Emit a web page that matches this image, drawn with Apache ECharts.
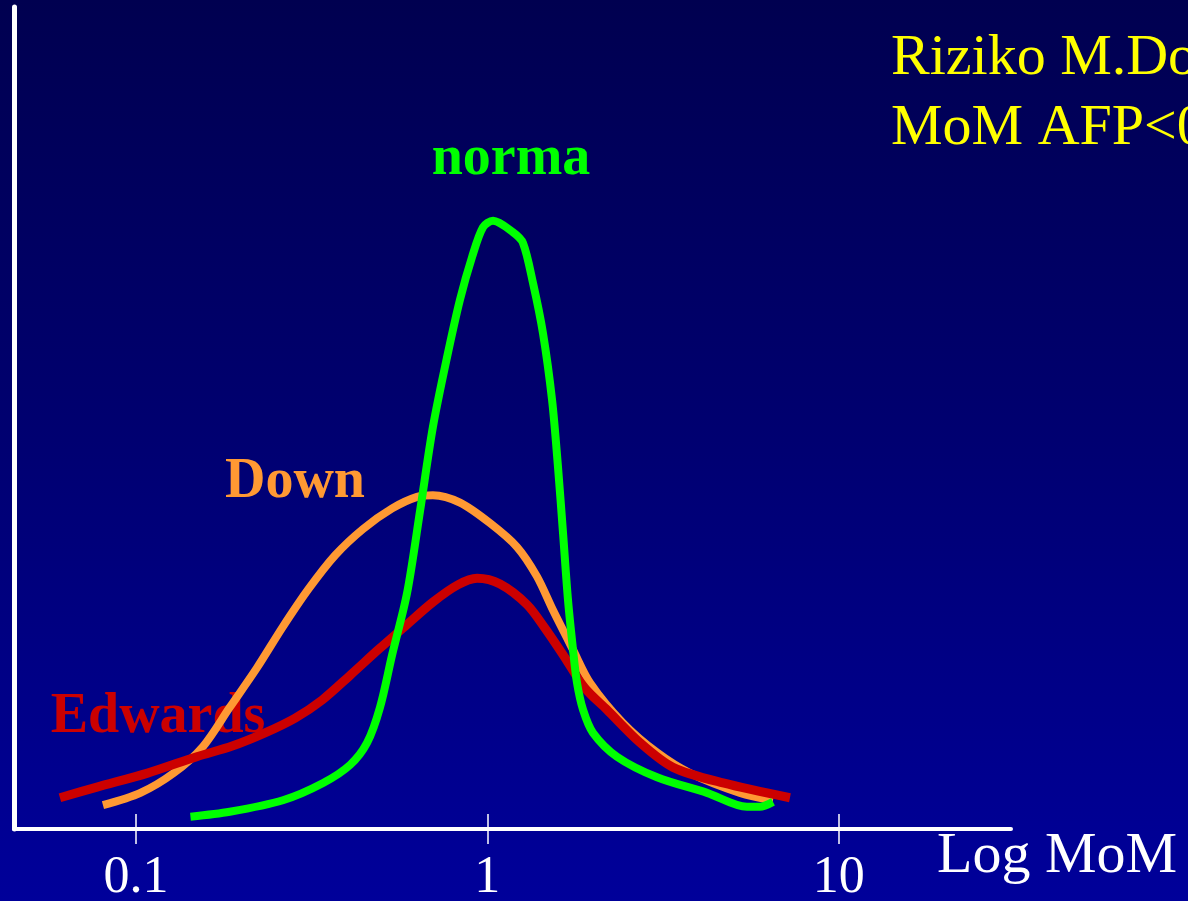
<!DOCTYPE html>
<html>
<head>
<meta charset="utf-8">
<script src="https://cdn.jsdelivr.net/npm/echarts@6/dist/echarts.min.js"></script>
<style>
  html, body { margin: 0; padding: 0; width: 1188px; height: 901px; overflow: hidden; }
  #chart { width: 1188px; height: 901px; background: linear-gradient(to bottom, #000050 0%, #00006e 45%, #00009a 100%); }
</style>
</head>
<body>
<div id="chart"></div>
<script>
// ---- data (x = MoM, y = relative frequency 0..100) ----
const tickValues = [0.1, 1, 10];

const normaX = [0.143, 0.185, 0.262, 0.341, 0.407, 0.455, 0.495, 0.536, 0.591, 0.644, 0.700, 0.768, 0.836, 0.905, 0.972, 1.038, 1.183, 1.263, 1.349, 1.440, 1.528, 1.589, 1.642, 1.696, 1.753, 1.799, 1.872, 1.998, 2.338, 3.040, 4.217, 5.480, 5.960, 6.498];
const normaY = [1.5, 2.1, 3.5, 5.6, 7.8, 10.5, 14.8, 21.2, 28.7, 38.8, 48.9, 57.4, 64.4, 69.6, 73.2, 74.0, 72.6, 71.3, 66.4, 60.3, 52.2, 44.0, 36.0, 27.9, 21.8, 17.8, 14.5, 11.7, 8.8, 6.3, 4.4, 2.7, 2.7, 3.3];

const downX = [0.0806, 0.103, 0.128, 0.155, 0.185, 0.221, 0.261, 0.310, 0.369, 0.443, 0.536, 0.631, 0.700, 0.836, 1.018, 1.215, 1.385, 1.538, 1.753, 1.959, 2.432, 3.040, 3.772, 5.234, 6.498];
const downY = [2.9, 4.4, 6.8, 10.0, 14.8, 19.6, 24.5, 29.2, 33.3, 36.5, 39.0, 40.4, 40.6, 39.7, 37.2, 34.3, 30.7, 26.6, 21.8, 17.8, 12.9, 9.3, 6.8, 4.4, 3.5];

const edwardsX = [0.0608, 0.0775, 0.108, 0.149, 0.188, 0.233, 0.284, 0.339, 0.407, 0.492, 0.581, 0.700, 0.824, 0.935, 1.087, 1.297, 1.455, 1.642, 1.890, 2.190, 2.719, 3.375, 4.684, 7.261];
const edwardsY = [3.8, 5.1, 6.8, 8.8, 10.1, 11.7, 13.5, 15.7, 18.7, 21.9, 24.6, 27.6, 29.7, 30.5, 29.8, 27.3, 24.5, 21.2, 17.2, 14.5, 10.5, 7.5, 5.6, 3.8];

const seriesNames = ['Down', 'Edwards', 'norma'];
const seriesColors = ['#ff9933', '#cc0000', '#00ff00'];

const zip = (xs, ys) => xs.map((x, i) => [x, ys[i]]);

const FONT = '"Liberation Serif", "Times New Roman", serif';

const chart = echarts.init(document.getElementById('chart'), null, { renderer: 'canvas' });

const xBase = {
  type: 'log',
  logBase: 10,
  min: 0.045,
  max: 30.9,
  position: 'bottom',
  splitLine: { show: false },
  axisPointer: { show: false }
};

const option = {
  backgroundColor: 'transparent',
  animation: false,
  grid: { left: 14, right: 177, top: 7, bottom: 72, containLabel: false, outerBoundsMode: 'none' },
  xAxis: [
    Object.assign({}, xBase, {
      axisLine: { show: true, lineStyle: { color: '#ffffff', width: 4 } },
      axisTick: { show: true, inside: false, length: 15, customValues: tickValues, lineStyle: { color: '#ffffff', width: 1.5 } },
      axisLabel: { show: true, customValues: tickValues, margin: 23, color: '#ffffff', fontFamily: FONT, fontSize: 52,
        formatter: v => String(+(+v).toPrecision(3)) }
    }),
    Object.assign({}, xBase, {
      axisLine: { show: false },
      axisTick: { show: true, inside: true, length: 15, customValues: tickValues, lineStyle: { color: '#ffffff', width: 1.5 } },
      axisLabel: { show: false }
    })
  ],
  yAxis: {
    type: 'value',
    min: 0,
    max: 100,
    axisLine: { show: true, lineStyle: { color: '#ffffff', width: 5 } },
    axisTick: { show: false },
    axisLabel: { show: false },
    splitLine: { show: false }
  },
  series: [
    { name: seriesNames[0], type: 'line', xAxisIndex: 0, data: zip(downX, downY), smooth: 0.3, showSymbol: false, lineStyle: { color: seriesColors[0], width: 8 }, z: 3 },
    { name: seriesNames[1], type: 'line', xAxisIndex: 0, data: zip(edwardsX, edwardsY), smooth: 0.3, showSymbol: false, lineStyle: { color: seriesColors[1], width: 9 }, z: 4 },
    { name: seriesNames[2], type: 'line', xAxisIndex: 0, data: zip(normaX, normaY), smooth: 0.3, showSymbol: false, lineStyle: { color: seriesColors[2], width: 8 }, z: 5 }
  ],
  graphic: [
    { type: 'text', z: 1, style: { text: 'norma', x: 511, y: 160, textAlign: 'center', textVerticalAlign: 'middle', fill: '#00ff00', font: 'bold 56px ' + FONT } },
    { type: 'text', z: 1, style: { text: 'Down', x: 295, y: 483, textAlign: 'center', textVerticalAlign: 'middle', fill: '#ff9933', font: 'bold 56px ' + FONT } },
    { type: 'text', z: 1, style: { text: 'Edwards', x: 158, y: 718, textAlign: 'center', textVerticalAlign: 'middle', fill: '#cc0000', font: 'bold 56px ' + FONT } },
    { type: 'text', z: 1, style: { text: 'Log MoM', x: 937, y: 857, textAlign: 'left', textVerticalAlign: 'middle', fill: '#ffffff', font: '58px ' + FONT } },
    { type: 'text', z: 1, style: { text: 'Riziko M.Down', x: 891, y: 59, textAlign: 'left', textVerticalAlign: 'middle', fill: '#ffff00', font: '58px ' + FONT } },
    { type: 'text', z: 1, style: { text: 'MoM AFP<0.5', x: 891, y: 129, textAlign: 'left', textVerticalAlign: 'middle', fill: '#ffff00', font: '58px ' + FONT } }
  ]
};

chart.setOption(option);
</script>
</body>
</html>
